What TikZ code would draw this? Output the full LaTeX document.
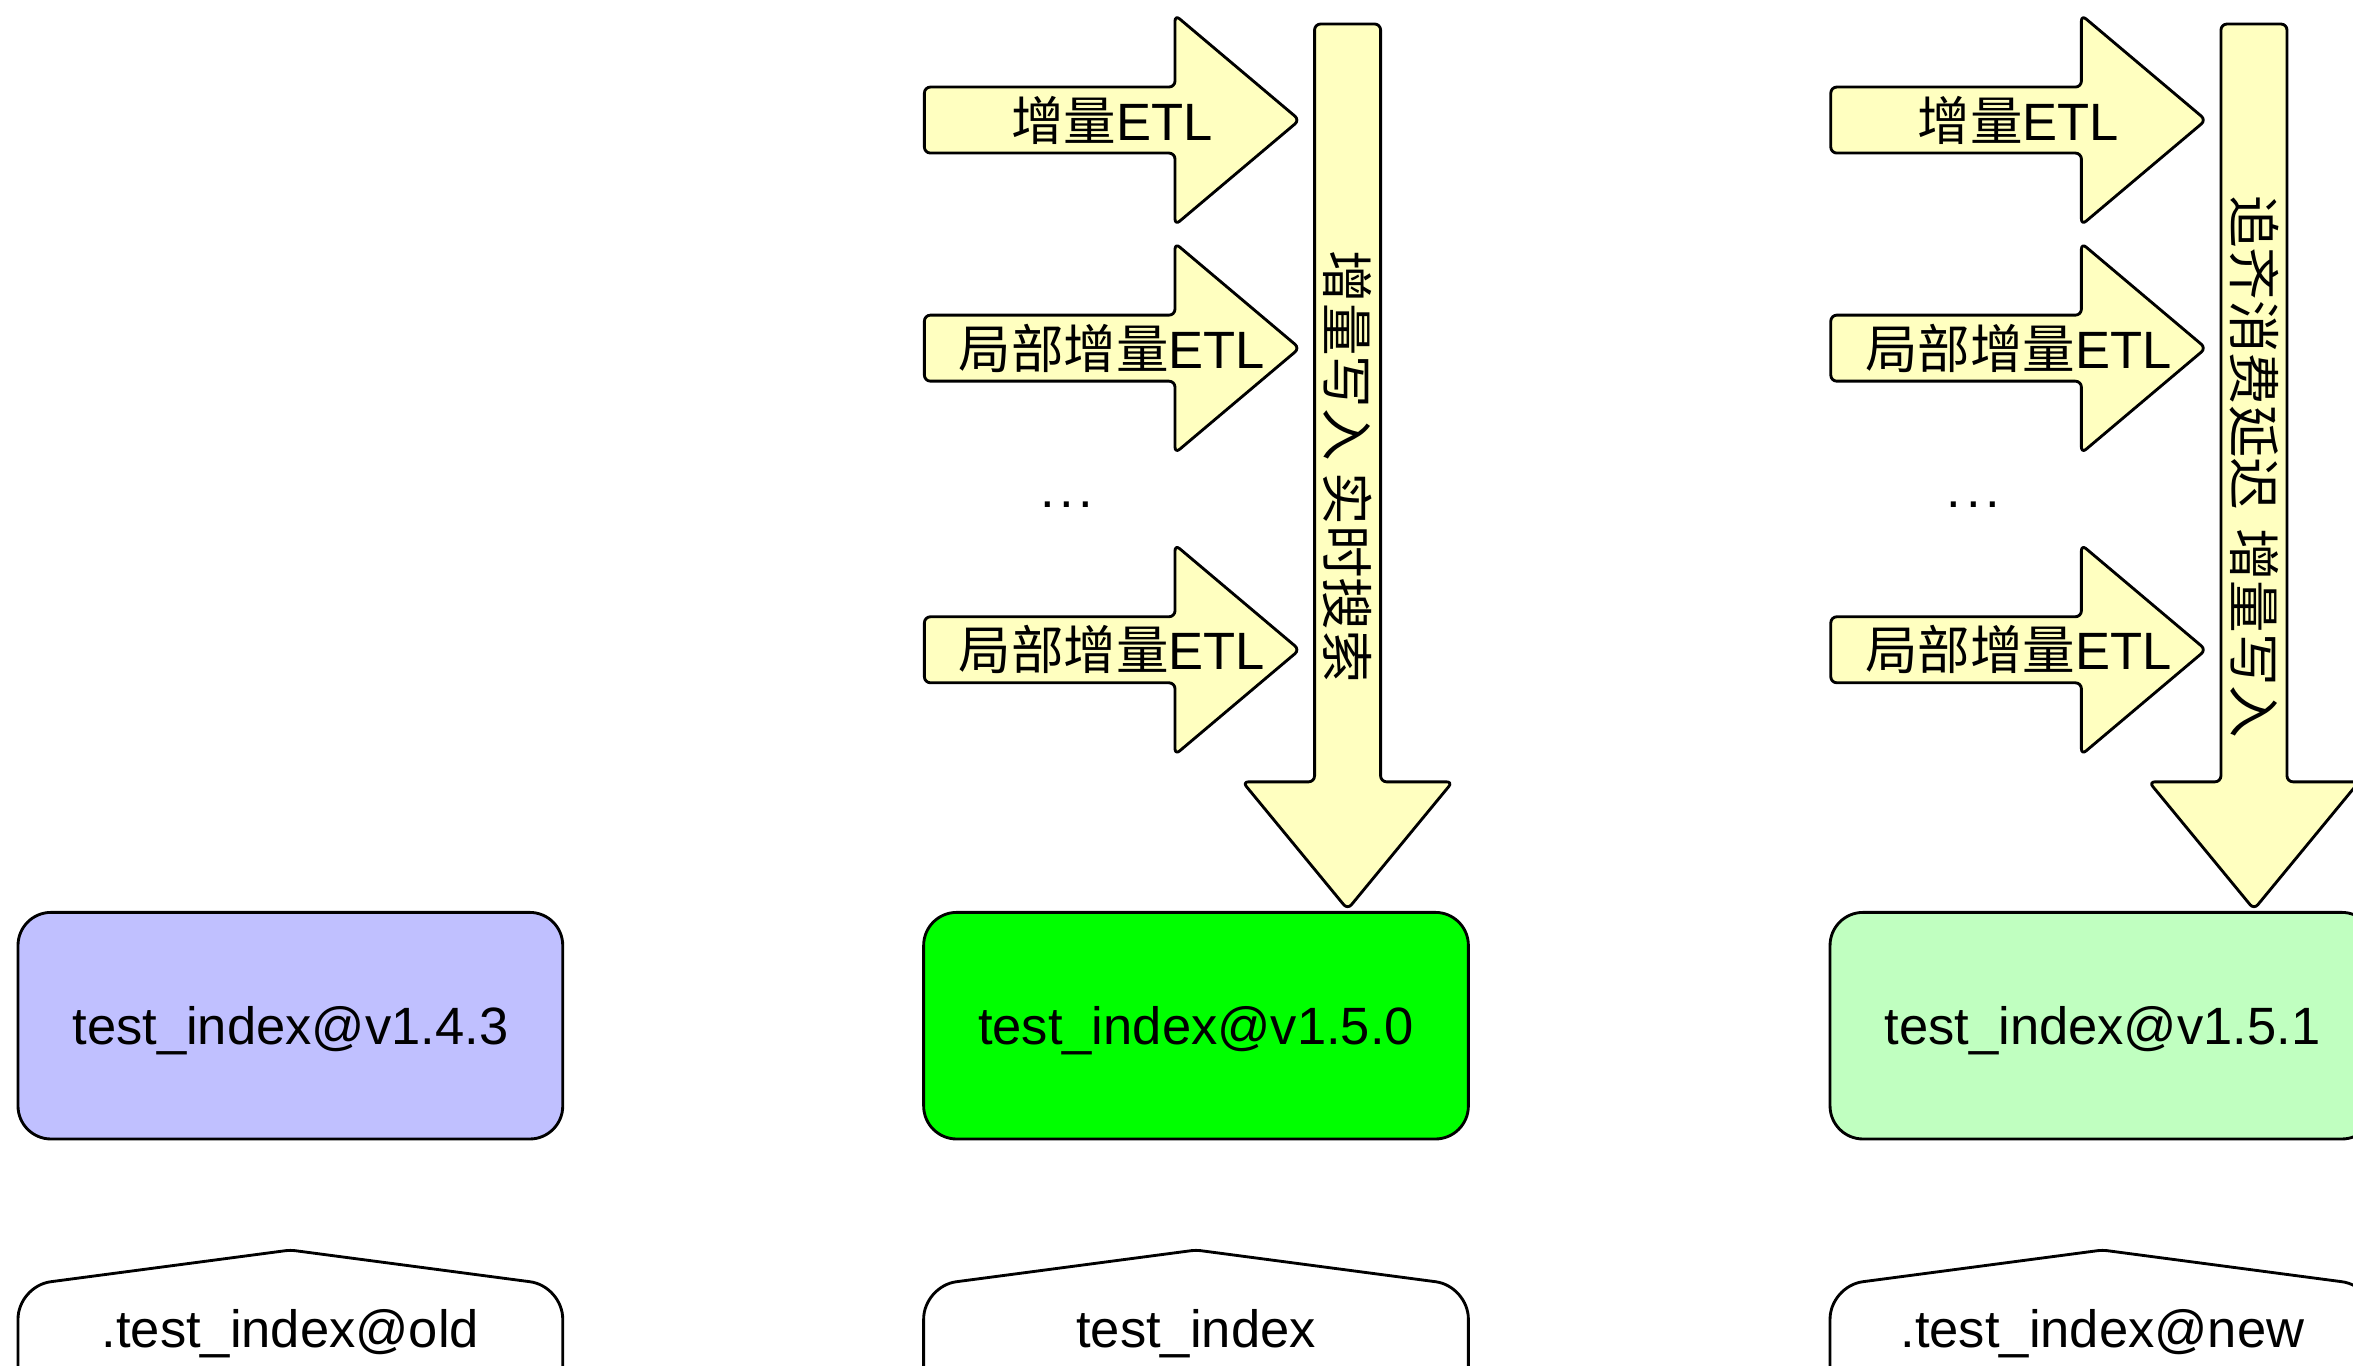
\documentclass[tikz,border=0pt]{standalone}
\usepackage{fontspec}
\setmainfont{Liberation Sans}
\newfontfamily\cjk{Noto Sans CJK SC}
\definecolor{flowfill}{HTML}{FFFFC0}
\definecolor{oldfill}{HTML}{C0C0FF}
\definecolor{curfill}{HTML}{00FF00}
\definecolor{newfill}{HTML}{C0FFC0}
\tikzset{
  outline/.style={draw=black, line width=1.9pt, line join=round},
  flowshape/.style={outline, fill=flowfill, rounded corners=4pt},
  % horizontal ETL feed arrow, origin at the left end of the shaft axis
  etlarrow/.pic={\path[flowshape] (0,-22) -- (167,-22) -- (167,-70) -- (250,0)
      -- (167,70) -- (167,22) -- (0,22) -- cycle;},
  % vertical write arrow, origin at the top of the shaft axis
  feedarrow/.pic={\path[flowshape] (-22,0) -- (22,0) -- (22,505) -- (70,505)
      -- (0,590) -- (-70,505) -- (-22,505) -- cycle;},
  % alias tag outline, origin at the apex: round shoulders, nearly sharp apex
  aliasshape/.pic={\path[outline, fill=white]
      (-181.5,140) [rounded corners=22pt] -- (-181.5,24)
      [rounded corners=3pt] -- (0,0)
      [rounded corners=22pt] -- (181.5,24)
      [sharp corners] -- (181.5,140);},
  txt/.style={font=\fontsize{35}{42}\selectfont, inner sep=0pt},
  version/.style={outline, rounded corners=22pt, minimum width=363pt,
      minimum height=151pt, inner sep=0pt, text height=25pt, text depth=0pt,
      font=\fontsize{35}{42}\selectfont},
}
\begin{document}
\begin{tikzpicture}[x=1pt,y=-1pt]
\useasboundingbox (0,0) rectangle (1568,910);
\clip (0,0) rectangle (1568,910);

% index versions
\node[version, fill=oldfill] (v143) at (193.5,683.5) {test\_index@v1.4.3};
\node[version, fill=curfill] (v150) at (797,683.5) {test\_index@v1.5.0};
\node[version, fill=newfill] (v151) at (1401,683.5) {test\_index@v1.5.1};

% aliases
\pic (aold) at (193.5,833) {aliasshape};
\pic (acur) at (797,833) {aliasshape};
\pic (anew) at (1401,833) {aliasshape};
\node[txt, anchor=base] (old) at (193.5,898) {.test\_index@old};
\node[txt, anchor=base] (cur) at (797,898) {test\_index};
\node[txt, anchor=base] (new) at (1401,898) {.test\_index@new};

% feeds into the current index
\pic (m1) at (616,80) {etlarrow};
\pic (m2) at (616,232) {etlarrow};
\pic (m3) at (616,433) {etlarrow};
\node[txt] (m1t) at (741,80) {{\cjk 增量}ETL};
\node[txt] (m2t) at (741,232) {{\cjk 局部增量}ETL};
\node[txt] (m3t) at (741,433) {{\cjk 局部增量}ETL};
\node[txt, anchor=base] (mdots) at (711,338) {.\kern3pt.\kern3pt.};
\pic (mfeed) at (898,16) {feedarrow};
\node[txt, rotate=-90] (mfeedt) at (898,311) {\cjk 增量写入 实时搜索};

% feeds into the new index
\pic (n1) at (1220,80) {etlarrow};
\pic (n2) at (1220,232) {etlarrow};
\pic (n3) at (1220,433) {etlarrow};
\node[txt] (n1t) at (1345,80) {{\cjk 增量}ETL};
\node[txt] (n2t) at (1345,232) {{\cjk 局部增量}ETL};
\node[txt] (n3t) at (1345,433) {{\cjk 局部增量}ETL};
\node[txt, anchor=base] (ndots) at (1315,338) {.\kern3pt.\kern3pt.};
\pic (nfeed) at (1502,16) {feedarrow};
\node[txt, rotate=-90] (nfeedt) at (1502,311) {\cjk 追齐消费延迟\hspace{4pt} 增量写入};
\end{tikzpicture}
\end{document}
